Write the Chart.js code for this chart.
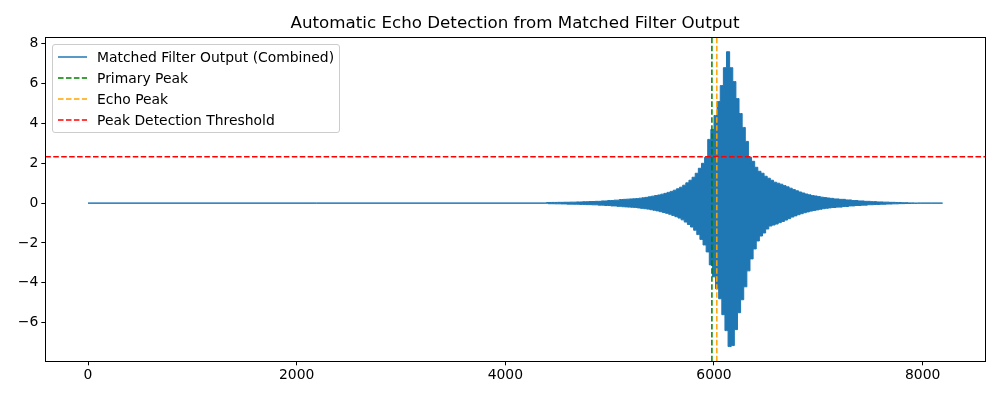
<!DOCTYPE html>
<html>
<head>
<meta charset="utf-8">
<script src="https://cdn.jsdelivr.net/npm/chart.js@4.4.1/dist/chart.umd.min.js"></script>
<style>
  body { margin: 0; background: #fff; }
  #wrap { position: relative; width: 1000px; height: 400px; font-family: "DejaVu Sans", sans-serif; }
  #title { position: absolute; left: 45px; width: 940px; top: 12px; line-height: 20px; text-align: center; font-size: 16.7px; color: #000; }
  #legend { position: absolute; left: 52px; top: 44px; width: 286px; height: 87px; border: 1px solid #cccccc; border-radius: 3px; background: rgba(255,255,255,0.8); }
  .row { position: absolute; left: 0; height: 20px; width: 100%; }
  .row svg { position: absolute; left: 4px; top: 0; }
  .row span { position: absolute; left: 44px; top: 0; line-height: 20px; font-size: 13.9px; color: #000; white-space: nowrap; }
</style>
</head>
<body>
<div id="wrap">
  <canvas id="chart" width="1000" height="400"></canvas>
  <div id="title">Automatic Echo Detection from Matched Filter Output</div>
  <div id="legend"></div>
</div>
<script>
// matched filter output: positive oscillation peaks (sample index, value)
const posPeakIdx = [
  0, 4380,
  4410, 4470, 4530, 4590, 4650, 4710, 4770, 4830, 4890, 4950, 5010, 5070,
  5115, 5145, 5175, 5205, 5235, 5265, 5295, 5325, 5355, 5385,
  5415, 5445, 5475, 5505, 5535, 5565, 5595, 5625, 5655, 5685,
  5715, 5745, 5775, 5805, 5835, 5865, 5895, 5925, 5955, 5985,
  6015, 6045, 6075, 6105, 6135, 6165, 6195, 6225, 6255, 6285,
  6315, 6345, 6375, 6405, 6435, 6465, 6495, 6525, 6555, 6585,
  6615, 6645, 6675, 6705, 6735, 6765, 6795, 6825, 6855, 6885,
  6915, 6945, 6975, 7005, 7035, 7065, 7095, 7125,
  7170, 7230, 7290, 7350, 7410, 7470, 7530, 7590, 7650, 7710, 7770, 7830,
  7890, 7950, 8191
];
const posPeakVal = [
  0, 0,
  0.03, 0.035, 0.04, 0.045, 0.05, 0.06, 0.07, 0.08, 0.09, 0.11, 0.13, 0.15,
  0.18, 0.19, 0.2, 0.21, 0.22, 0.23, 0.25, 0.27, 0.29, 0.32,
  0.35, 0.38, 0.41, 0.45, 0.49, 0.54, 0.59, 0.65, 0.72, 0.8,
  0.9, 1.02, 1.15, 1.3, 1.5, 1.75, 2.0, 2.3, 3.2, 3.7,
  4.4, 5.1, 5.9, 6.8, 7.6, 6.8, 6.1, 5.25, 4.5, 3.8,
  3.1, 2.3, 2.1, 1.8, 1.6, 1.5, 1.35, 1.25, 1.15, 1.05,
  1.0, 0.95, 0.88, 0.82, 0.75, 0.68, 0.62, 0.56, 0.51, 0.46,
  0.42, 0.38, 0.36, 0.33, 0.3, 0.28, 0.26, 0.24,
  0.21, 0.19, 0.16, 0.13, 0.11, 0.09, 0.075, 0.06, 0.05, 0.04, 0.03, 0.02,
  0.01, 0, 0
];
// negative oscillation peaks (sample index, value)
const negPeakIdx = [
  0, 4380,
  4440, 4500, 4560, 4620, 4680, 4740, 4800, 4860, 4920, 4980, 5040, 5100,
  5130, 5160, 5190, 5220, 5250, 5280, 5310, 5340, 5370, 5400,
  5430, 5460, 5490, 5520, 5550, 5580, 5610, 5640, 5670, 5700,
  5730, 5760, 5790, 5820, 5850, 5880, 5910, 5940, 5970, 6000,
  6030, 6060, 6090, 6120, 6150, 6180, 6210, 6240, 6270, 6300,
  6330, 6360, 6390, 6420, 6450, 6480, 6510, 6540, 6570, 6600,
  6630, 6660, 6690, 6720, 6750, 6780, 6810, 6840, 6870, 6900,
  6930, 6960, 6990, 7020, 7050, 7080, 7110, 7140,
  7200, 7260, 7320, 7380, 7440, 7500, 7560, 7620, 7680, 7740, 7800, 7860,
  7920, 7980, 8191
];
const negPeakVal = [
  0, 0,
  -0.03, -0.035, -0.04, -0.05, -0.055, -0.065, -0.075, -0.085, -0.1, -0.12, -0.14, -0.16,
  -0.18, -0.19, -0.2, -0.21, -0.22, -0.24, -0.26, -0.28, -0.3, -0.33,
  -0.36, -0.39, -0.43, -0.47, -0.51, -0.56, -0.62, -0.68, -0.75, -0.84,
  -0.95, -1.07, -1.2, -1.36, -1.58, -1.82, -2.1, -2.45, -3.1, -3.7,
  -4.3, -4.8, -5.6, -6.4, -7.2, -7.15, -6.35, -5.5, -4.85, -4.2,
  -3.4, -2.8, -2.3, -1.9, -1.65, -1.5, -1.3, -1.15, -1.1, -1.05,
  -0.98, -0.92, -0.85, -0.78, -0.7, -0.64, -0.58, -0.53, -0.48, -0.44,
  -0.4, -0.37, -0.34, -0.31, -0.28, -0.26, -0.24, -0.22,
  -0.2, -0.17, -0.14, -0.12, -0.1, -0.08, -0.07, -0.055, -0.045, -0.035, -0.025, -0.015,
  -0.01, 0, 0
];

const primaryPeak = 5980;
const echoPeak = 6027;
const threshold = 2.33;

const xTicks = [0, 2000, 4000, 6000, 8000];
const yTicks = [-6, -4, -2, 0, 2, 4, 6, 8];
const xMin = -409.55, xMax = 8600.55;
const yMin = -7.94, yMax = 8.34;

const blue = "#1f77b4";
const dash = [5.55, 2.4];
const tickFont = { family: "DejaVu Sans", size: 13.9 };

// legend (matplotlib style box)
const legendItems = [
  { label: "Matched Filter Output (Combined)", color: blue, dashed: false },
  { label: "Primary Peak", color: "#008000", dashed: true },
  { label: "Echo Peak", color: "#ffa500", dashed: true },
  { label: "Peak Detection Threshold", color: "#ff0000", dashed: true },
];
const legendBox = document.getElementById("legend");
legendItems.forEach((item, i) => {
  const row = document.createElement("div");
  row.className = "row";
  row.style.top = (1.7 + i * 21.2) + "px";
  row.innerHTML =
    '<svg width="32" height="20"><line x1="1" y1="10" x2="30" y2="10" stroke="' + item.color +
    '" stroke-width="1.5"' + (item.dashed ? ' stroke-dasharray="' + dash.join(" ") + '"' : "") +
    '/></svg><span>' + item.label + "</span>";
  legendBox.appendChild(row);
});

// draw all four spines like matplotlib
const framePlugin = {
  id: "frame",
  afterDraw(chart) {
    const a = chart.chartArea;
    const c = chart.ctx;
    c.save();
    c.strokeStyle = "#000";
    c.lineWidth = 1;
    c.strokeRect(Math.round(a.left) + 0.5, Math.round(a.top) + 0.5,
      Math.round(a.right - a.left), Math.round(a.bottom - a.top));
    c.restore();
  },
};

const minus = (v) => (v < 0 ? "\u2212" + Math.abs(v) : String(v));

new Chart(document.getElementById("chart"), {
  type: "line",
  data: {
    datasets: [
      {
        label: "Matched Filter Output (Combined)",
        data: posPeakIdx.map((x, i) => ({ x: x, y: posPeakVal[i] })),
        borderColor: blue,
        backgroundColor: blue,
        borderWidth: 1,
        stepped: "middle",
        fill: "+1",
        pointRadius: 0,
        order: 1,
      },
      {
        label: "Matched Filter Output (negative)",
        data: negPeakIdx.map((x, i) => ({ x: x, y: negPeakVal[i] })),
        borderColor: blue,
        borderWidth: 1,
        stepped: "middle",
        fill: false,
        pointRadius: 0,
        order: 1,
      },
      {
        label: "Primary Peak",
        data: [{ x: primaryPeak, y: yMin }, { x: primaryPeak, y: yMax }],
        borderColor: "#008000",
        borderWidth: 1.5,
        borderDash: dash,
        pointRadius: 0,
        order: 0,
      },
      {
        label: "Echo Peak",
        data: [{ x: echoPeak, y: yMin }, { x: echoPeak, y: yMax }],
        borderColor: "#ffa500",
        borderWidth: 1.5,
        borderDash: dash,
        pointRadius: 0,
        order: 0,
      },
      {
        label: "Peak Detection Threshold",
        data: [{ x: xMin, y: threshold }, { x: xMax, y: threshold }],
        borderColor: "#ff0000",
        borderWidth: 1.5,
        borderDash: dash,
        pointRadius: 0,
        order: 0,
      },
    ],
  },
  options: {
    responsive: false,
    animation: false,
    events: [],
    layout: { padding: { left: 0, top: 37, right: 14.7, bottom: 0 } },
    plugins: { legend: { display: false }, tooltip: { enabled: false }, title: { display: false } },
    scales: {
      x: {
        type: "linear",
        min: xMin,
        max: xMax,
        afterBuildTicks: (s) => { s.ticks = xTicks.map((v) => ({ value: v })); },
        afterFit: (s) => { s.height = 38.7; },
        ticks: { callback: (v) => String(v), font: tickFont, color: "#000", padding: 2, maxRotation: 0, autoSkip: false },
        grid: { drawOnChartArea: false, tickLength: 4, color: "#000" },
        border: { color: "#000", width: 1 },
      },
      y: {
        min: yMin,
        max: yMax,
        afterBuildTicks: (s) => { s.ticks = yTicks.map((v) => ({ value: v })); },
        afterFit: (s) => { s.width = 45.3; },
        ticks: { callback: minus, font: tickFont, color: "#000", padding: 3, autoSkip: false },
        grid: { drawOnChartArea: false, tickLength: 4, color: "#000" },
        border: { color: "#000", width: 1 },
      },
    },
  },
  plugins: [framePlugin],
});
</script>
</body>
</html>
